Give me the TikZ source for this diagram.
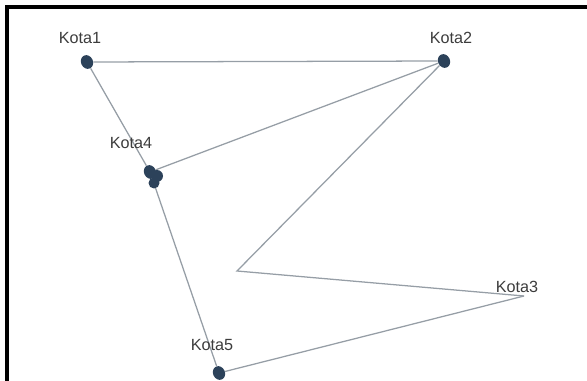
\documentclass[tikz,border=0pt]{standalone}
\usepackage{fontspec}
\setmainfont{Liberation Sans}
\usetikzlibrary{shapes.geometric, positioning}
\definecolor{kotadot}{RGB}{44, 66, 90}
\definecolor{roadgray}{RGB}{150, 158, 166}
\definecolor{labelgray}{RGB}{60, 60, 60}

\begin{document}
\begin{tikzpicture}[
    x=0.025cm, y=-0.025cm,
    kota/.style={ellipse, fill=kotadot, inner sep=0pt, minimum width=8.5pt, minimum height=10pt, rotate=25},
    kotalabel/.style={text=labelgray, inner sep=0pt, font=\fontsize{11.5}{13}\selectfont},
    road/.style={draw=roadgray, line width=0.9pt}
]
\useasboundingbox (0,0) rectangle (587,381);
\draw[line width=2.2pt, line cap=rect] (7,381) -- (7,7) -- (587,7);

\node[kota] (k1) at (87,62) {};
\node[kota] (k2) at (444,61) {};
\node[kota] (k4) at (150,172) {};
\node[kota] (k5) at (219,373) {};
\coordinate (k3) at (524,296);
\coordinate (belok) at (237,271);

\draw[road] (k1) -- (k2);
\draw[road] (k1) -- (k4);
\draw[road] (k4) -- (k2);
\draw[road] (k4) -- (k5);
\draw[road] (k2) -- (belok) -- (k3);
\draw[road] (k3) -- (k5);

% titik tambahan di Kota4
\fill[kotadot] (157,176) circle (6);
\fill[kotadot] (154,183) circle (5.5);

\node[kotalabel] (l1) at (80,38) {Kota1};
\node[kotalabel] (l2) at (451,38) {Kota2};
\node[kotalabel] (l4) at (131,143) {Kota4};
\node[kotalabel] (l3) at (517,287) {Kota3};
\node[kotalabel] (l5) at (212,345) {Kota5};
\end{tikzpicture}
\end{document}
